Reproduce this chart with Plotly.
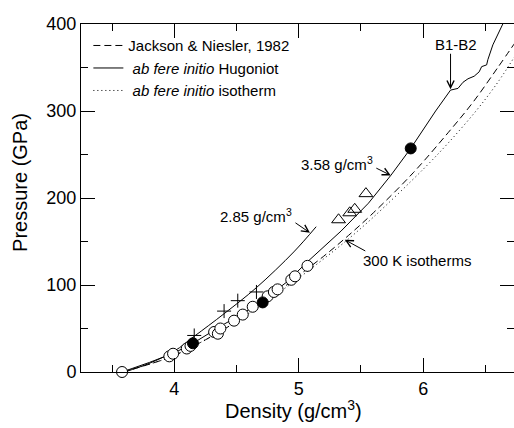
import plotly.graph_objects as go

# ── Curves (density g/cm3, pressure GPa) ──────────────────────────────────────
JN_D = [3.58, 3.80, 4.00, 4.25, 4.50, 4.75, 5.00, 5.20, 5.40, 5.60, 5.92, 6.20, 6.40, 6.60, 6.75]
JN_P = [0, 9, 19, 37, 58, 83, 111, 133, 157, 183, 229, 275, 310, 350, 381]

HUG_D = [3.58, 3.80, 4.00, 4.15, 4.40, 4.55, 4.71, 4.90, 5.08, 5.34, 5.56, 5.74, 5.90, 6.10,
         6.22, 6.28, 6.32, 6.36, 6.41, 6.45, 6.47, 6.51, 6.52, 6.56, 6.64]
HUG_P = [0, 11, 22, 33, 55, 67, 82, 103, 128, 162, 194, 226, 257, 300,
         324, 326, 333, 337, 340, 345, 351, 353, 359, 376, 400]

HUG285_D = [3.60, 3.80, 4.00, 4.16, 4.40, 4.66, 4.96, 5.14]
HUG285_P = [0, 10, 24, 41, 67, 97, 138, 167]

ISO_D = [3.58, 3.80, 4.00, 4.25, 4.50, 4.75, 5.00, 5.20, 5.40, 5.60, 6.00, 6.20, 6.43, 6.60, 6.75]
ISO_P = [0, 9, 19, 37, 58, 82, 108, 130, 153, 178, 233, 263, 301, 333, 366]

# ── Experimental points ──────────────────────────────────────────────────────
OPEN_D = [3.58, 3.96, 3.99, 4.10, 4.13, 4.32, 4.35, 4.37, 4.48, 4.55, 4.63,
          4.75, 4.80, 4.83, 4.94, 4.97, 5.07]
OPEN_P = [0, 18, 21, 27, 30, 46, 44, 50, 59, 66, 75, 87, 92, 95, 106, 110, 122]

FILLED_D = [4.15, 4.71, 5.90]
FILLED_P = [33, 80, 257]

PLUS_D = [4.16, 4.40, 4.51, 4.66]
PLUS_P = [42, 70, 82, 92]

TRI_D = [5.32, 5.41, 5.45, 5.54]
TRI_P = [175, 183, 187, 205]

FONT = "Liberation Sans, Arial, Helvetica, sans-serif"

fig = go.Figure()

# ── Lines ─────────────────────────────────────────────────────────────────────
fig.add_trace(go.Scatter(
    x=JN_D, y=JN_P, mode="lines", name="Jackson & Niesler, 1982",
    line=dict(color="black", width=1, dash="7px,4px", shape="spline"),
))
fig.add_trace(go.Scatter(
    x=HUG_D, y=HUG_P, mode="lines", name=" <i>ab fere initio</i> Hugoniot",
    line=dict(color="black", width=1),
))
fig.add_trace(go.Scatter(
    x=ISO_D, y=ISO_P, mode="lines", name=" <i>ab fere initio</i> isotherm",
    line=dict(color="black", width=1, dash="1px,3px", shape="spline"),
))
fig.add_trace(go.Scatter(
    x=HUG285_D, y=HUG285_P, mode="lines", showlegend=False,
    line=dict(color="black", width=1, shape="spline"),
))

# ── Markers ───────────────────────────────────────────────────────────────────
fig.add_trace(go.Scatter(
    x=PLUS_D, y=PLUS_P, mode="markers", showlegend=False, cliponaxis=False,
    marker=dict(symbol="cross-thin", size=10, line=dict(color="black", width=1)),
))
fig.add_trace(go.Scatter(
    x=TRI_D, y=TRI_P, mode="markers", showlegend=False, cliponaxis=False,
    marker=dict(symbol="triangle-up-open", size=12, color="black", line=dict(width=1)),
))
fig.add_trace(go.Scatter(
    x=OPEN_D, y=OPEN_P, mode="markers", showlegend=False, cliponaxis=False,
    marker=dict(symbol="circle", size=11, color="white", line=dict(color="black", width=1)),
))
fig.add_trace(go.Scatter(
    x=FILLED_D, y=FILLED_P, mode="markers", showlegend=False, cliponaxis=False,
    marker=dict(symbol="circle", size=11, color="black", line=dict(color="black", width=1)),
))

# ── Annotations ───────────────────────────────────────────────────────────────
ann_font = dict(family=FONT, size=15, color="black")
texts = [
    ("B1-B2", 6.26, 377),
    ("3.58 g/cm<sup>3</sup>", 5.31, 240),
    ("2.85 g/cm<sup>3</sup>", 4.66, 180),
    ("300 K isotherms", 5.95, 128),
]
for t, x, y in texts:
    fig.add_annotation(x=x, y=y, text=t, showarrow=False, font=ann_font)

arrows = [
    (6.22, 325, 0, -37),
    (5.74, 226, -16, -8),
    (5.09, 160, -16, -11),
    (5.37, 152, 22, 12),
]
for x, y, ax, ay in arrows:
    fig.add_annotation(x=x, y=y, text="", showarrow=True, ax=ax, ay=ay,
                       arrowhead=5, arrowsize=1.4, arrowwidth=1, arrowcolor="black")

# axis titles placed as paper annotations
title_font = dict(family=FONT, size=20, color="black")
fig.add_annotation(text="Density (g/cm<sup>3</sup>)", xref="paper", yref="paper",
                   x=0.49, y=-0.109, xanchor="center", yanchor="middle",
                   showarrow=False, font=title_font)
fig.add_annotation(text="Pressure (GPa)", xref="paper", yref="paper",
                   x=-0.141, y=0.546, xanchor="center", yanchor="middle",
                   textangle=-90, showarrow=False, font=title_font)

axis_common = dict(
    showgrid=False, zeroline=False, automargin=False,
    showline=True, linecolor="black", linewidth=1, mirror="ticks",
    ticks="inside", ticklen=14, tickwidth=1, tickcolor="black",
    tickfont=dict(family=FONT, size=18, color="black"),
)

fig.update_layout(
    width=514, height=428,
    margin=dict(l=81, r=0, t=24, b=56),
    plot_bgcolor="white", paper_bgcolor="white",
    font=dict(family=FONT, color="black"),
    showlegend=True,
    legend=dict(
        x=0.017, y=0.985, xanchor="left", yanchor="top",
        font=dict(family=FONT, size=15, color="black"),
        bgcolor="rgba(0,0,0,0)", tracegroupgap=0, itemwidth=30,
    ),
    xaxis=dict(
        range=[3.25, 6.73], tickvals=[4, 5, 6],
        minor=dict(tickvals=[3.5, 4.5, 5.5, 6.5], ticks="inside", ticklen=7,
                   tickcolor="black"),
        **axis_common,
    ),
    yaxis=dict(
        range=[0, 400], tickvals=[0, 100, 200, 300, 400],
        minor=dict(tickvals=[50, 150, 250, 350], ticks="inside", ticklen=7,
                   tickcolor="black"),
        **axis_common,
    ),
)

# drop the page's default body margin so the figure fills the window
fig.write_html("out.html", config={"displayModeBar": False},
               post_script="document.body.style.margin='0';")
